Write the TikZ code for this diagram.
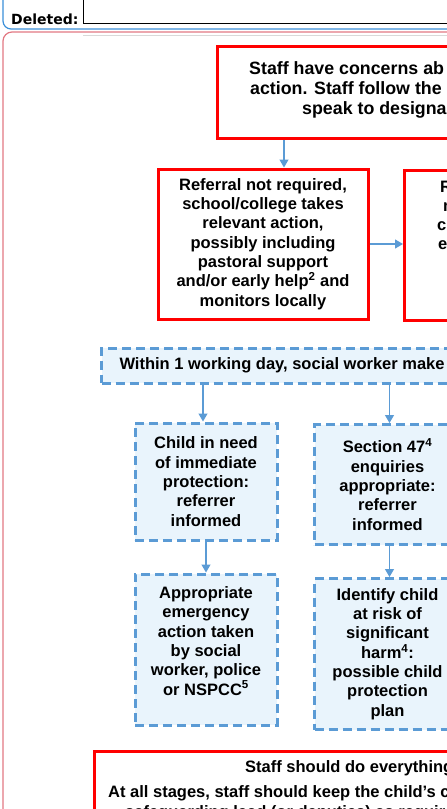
\documentclass[tikz,border=0pt]{standalone}
\usepackage{fontspec}
\setmainfont{Liberation Sans}
\newfontfamily\balloonfont{DejaVu Sans}
\usetikzlibrary{arrows.meta}

\definecolor{alertred}{rgb}{1 0 0}
\definecolor{csblue}{RGB}{91,155,213}
\definecolor{csfill}{RGB}{233,244,252}
\definecolor{markupblue}{RGB}{58,143,217}
\definecolor{framepink}{RGB}{226,120,130}

\tikzset{
  every node/.style={font=\fontsize{16.5}{19.3}\selectfont\bfseries,inner sep=0pt},
  redbox/.style={draw=alertred,line width=3pt,fill=white},
  bluebox/.style={draw=csblue,line width=3pt,dash pattern=on 9pt off 5pt,fill=csfill,align=center},
  flow/.style={csblue,line width=1.2pt,-{Triangle[width=9pt,length=8pt]}},
  cutline/.style={anchor=base west}
}

\begin{document}
\begin{tikzpicture}[x=1pt,y=-1pt]
\useasboundingbox (0,0) rectangle (447,809);
\clip (0,0) rectangle (447,809);

% markup strip
\draw[markupblue,line width=1.2pt,rounded corners=8pt] (3,0) -- (3,29) -- (447,29);
\draw[black,line width=0.8pt] (83,0) -- (83,23) -- (447,23);
\node[anchor=base west,font=\balloonfont\fontsize{14}{16}\selectfont\bfseries] (deleted) at (11,24.5) {Deleted:};
\draw[framepink,line width=1.2pt,rounded corners=9pt] (3,809) -- (3,32) -- (447,32);
\draw[black!15] (83,35) -- (447,35);

% first concern
\node[redbox,anchor=north west,minimum width=260,minimum height=92] (concern) at (216,45) {};
\begin{scope}[every node/.append style={font=\fontsize{17.8}{20}\selectfont\bfseries}]
\node[cutline] (concern1) at (249,74) {Staff have concerns ab};
\node[cutline] (concern2) at (250,94) {action. Staff follow the};
\node[cutline] (concern3) at (302,114) {speak to designa};
\end{scope}

% referral or not
\node[redbox,minimum width=210,minimum height=150,align=center] (referral) at (263,244)
  {Referral not required,\\school/college takes\\relevant action,\\possibly including\\pastoral support\\and/or early help\textsuperscript{2} and\\monitors locally};
\node[redbox,anchor=north west,minimum width=210,minimum height=150] (escalate) at (403,169) {};
\node[cutline] (escalate1) at (440,192) {R};
\node[cutline] (escalate2) at (443,211.3) {m};
\node[cutline] (escalate3) at (437,230.6) {c};
\node[cutline] (escalate4) at (438,249.9) {e};

% social care decision
\node[bluebox,anchor=west,minimum height=35,inner xsep=18pt] (within) at (100,365.5)
  {Within 1 working day, social worker make};

\node[bluebox,minimum width=142,minimum height=117] (child) at (206,481.5)
  {Child in need\\of immediate\\protection:\\referrer\\informed};
\node[bluebox,anchor=north west,minimum width=146,minimum height=120] (section) at (313,423)
  {Section 47\textsuperscript{4}\\enquiries\\appropriate:\\referrer\\informed};

\node[bluebox,minimum width=142,minimum height=151] (appropriate) at (206,649.5) {};
\node[align=center] (appropriatetxt) at (206,641)
  {Appropriate\\emergency\\action taken\\by social\\worker, police\\or NSPCC\textsuperscript{5}};
\node[bluebox,anchor=north west,minimum width=146,minimum height=151] (identify) at (313,577)
  {Identify child\\at risk of\\significant\\harm\textsuperscript{4}:\\possible child\\protection\\plan};

% footer
\node[redbox,anchor=north west,minimum width=400,minimum height=120] (everything) at (93,750) {};
\node[cutline] (everything1) at (245,772) {Staff should do everything};
\node[cutline] (everything2) at (108,797) {At all stages, staff should keep the child’s c};
\node[cutline] (everything3) at (125,817) {safeguarding lead (or deputies) as requir};

% arrows
\draw[flow] ([xshift=21pt]referral.north |- concern.south) -- ([xshift=21pt]referral.north);
\draw[flow] (referral.east) -- (escalate.west |- referral.east);
\draw[flow] ([xshift=-3pt]child.north |- within.south) -- ([xshift=-3pt]child.north);
\draw[flow] ([xshift=2pt]section.north |- within.south) -- ([xshift=2pt]section.north);
\draw[flow] (child.south) -- (appropriate.north);
\draw[flow] ([xshift=2pt]section.south) -- ([xshift=2pt]section.south |- identify.north);
\end{tikzpicture}
\end{document}
